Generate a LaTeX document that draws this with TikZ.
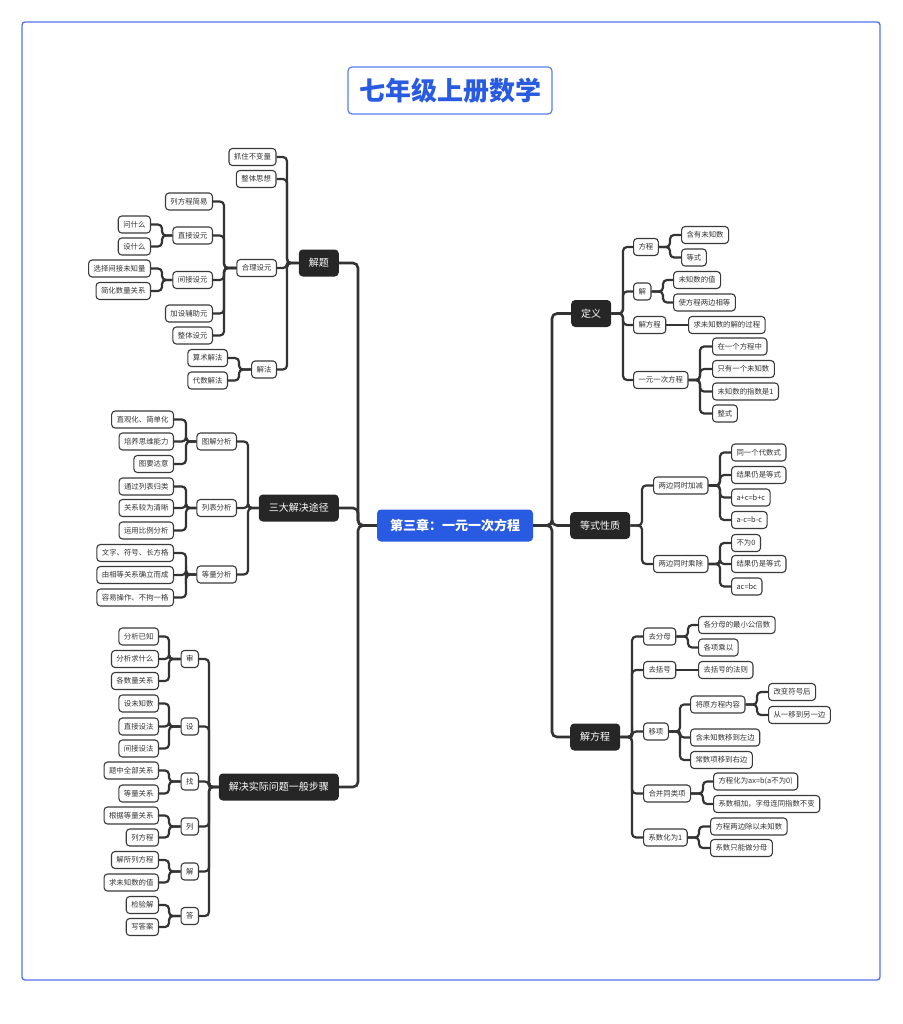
\documentclass[tikz,border=0pt]{standalone}
\usepackage{fontspec}
\setmainfont{Noto Sans CJK SC}
\definecolor{mainfill}{RGB}{38,38,38}
\definecolor{lnk}{RGB}{51,51,51}
\definecolor{leafline}{RGB}{58,58,58}
\definecolor{blue1}{RGB}{40,90,226}
\definecolor{blue2}{RGB}{90,125,240}
\definecolor{frame}{RGB}{84,112,240}
\tikzset{
  leaf/.style={draw=leafline, line width=1.1pt, rounded corners=3.5pt, fill=white, text=lnk,
    font=\fontsize{7.4}{8}\selectfont, inner xsep=5pt, inner ysep=0pt, minimum height=17pt},
  mainbox/.style={fill=mainfill, text=white, rounded corners=4pt, font=\fontsize{10}{11}\selectfont,
    inner xsep=10pt, inner ysep=0pt, minimum height=27pt},
  centerbox/.style={fill=blue1, text=white, rounded corners=4pt, font=\bfseries\fontsize{13}{14}\selectfont,
    inner xsep=13pt, inner ysep=0pt, minimum height=32pt},
  titlebox/.style={draw=blue2, line width=1.2pt, fill=white, text=blue1, rounded corners=4pt,
    font=\bfseries\fontsize{26}{28}\selectfont, inner xsep=11pt, inner ysep=0pt, minimum height=47pt},
  trunk/.style={draw=lnk, line width=2.6pt, rounded corners=5pt},
  sub/.style={draw=lnk, line width=2.2pt, rounded corners=4pt},
}
\newcommand\joinL[4][sub]{\foreach \c in {#4}{\draw[#1] (#2.west) -- (#2.west -| #3) |- (\c.east);}}
\newcommand\joinR[4][sub]{\foreach \c in {#4}{\draw[#1] (#2.east) -- (#2.east -| #3) |- (\c.west);}}
\newcommand\joinS[2]{\draw[sub] (#1.east) -- (#2.west);}
\begin{document}
\begin{tikzpicture}[x=1pt,y=-1pt]
\useasboundingbox (0,0) rectangle (902,1024);
\draw[frame, line width=1.3pt, rounded corners=3pt] (22,22) rectangle (880,980);

\node[titlebox] (title) at (450,90.5) {七年级上册数学};
\node[centerbox] (C) at (455,525.5) {第三章：一元一次方程};

% bus coordinates
\coordinate (tL) at (358,0);
\coordinate (tR) at (552,0);
\coordinate (bA) at (287,0);
\coordinate (bA3) at (224,0);
\coordinate (bA32) at (162,0);
\coordinate (bA4) at (239,0);
\coordinate (bB) at (248,0);
\coordinate (bB1) at (186,0);
\coordinate (bC) at (209,0);
\coordinate (bC1) at (169,0);
\coordinate (bD) at (623,0);
\coordinate (bD1) at (670,0);
\coordinate (bD2) at (663,0);
\coordinate (bD4) at (700,0);
\coordinate (bE) at (642,0);
\coordinate (bE1) at (720,0);
\coordinate (bF) at (632,0);
\coordinate (bF1) at (688,0);
\coordinate (bF3) at (680,0);
\coordinate (bF31) at (757,0);
\coordinate (bF4) at (703,0);
\coordinate (bF5) at (699,0);

% main nodes
\node[mainbox, anchor=east] (L1) at (339,263) {解题};
\node[mainbox, anchor=east] (L2) at (339,508) {三大解决途径};
\node[mainbox, anchor=east] (L3) at (339,787) {解决实际问题一般步骤};
\node[mainbox, anchor=west] (R1) at (571,313.5) {定义};
\node[mainbox, anchor=west] (R2) at (570,525.5) {等式性质};
\node[mainbox, anchor=west] (R3) at (570,737) {解方程};

% 解题
\node[leaf, anchor=east] (a1) at (276.5,157) {抓住不变量};
\node[leaf, anchor=east] (a2) at (276.5,179) {整体思想};
\node[leaf, anchor=east] (a3) at (277,268) {合理设元};
\node[leaf, anchor=east] (a4) at (277,369.5) {解法};
\node[leaf, anchor=east] (a31) at (213,201.5) {列方程简易};
\node[leaf, anchor=east] (a32) at (213,235.5) {直接设元};
\node[leaf, anchor=east] (a33) at (213,280) {间接设元};
\node[leaf, anchor=east] (a34) at (213,313.5) {加设辅助元};
\node[leaf, anchor=east] (a35) at (213,335.5) {整体设元};
\node[leaf, anchor=east] (a321) at (151,224.5) {问什么};
\node[leaf, anchor=east] (a322) at (151,246.5) {设什么};
\node[leaf, anchor=east] (a331) at (151,268.5) {选择间接未知量};
\node[leaf, anchor=east] (a332) at (151,291) {简化数量关系};
\node[leaf, anchor=east] (a41) at (228,358) {算术解法};
\node[leaf, anchor=east] (a42) at (228,380.5) {代数解法};

% 三大解决途径
\node[leaf, anchor=east] (b1) at (237,441.5) {图解分析};
\node[leaf, anchor=east] (b2) at (237,508) {列表分析};
\node[leaf, anchor=east] (b3) at (237,574.5) {等量分析};
\node[leaf, anchor=east] (b11) at (174,419.5) {直观化、简单化};
\node[leaf, anchor=east] (b12) at (174,441.5) {培养思维能力};
\node[leaf, anchor=east] (b13) at (174,464) {图要达意};
\node[leaf, anchor=east] (b21) at (174,486.5) {通过列表归类};
\node[leaf, anchor=east] (b22) at (174,508) {关系较为清晰};
\node[leaf, anchor=east] (b23) at (174,530.5) {运用比例分析};
\node[leaf, anchor=east] (b31) at (174,553) {文字、符号、长方格};
\node[leaf, anchor=east] (b32) at (174,575) {由相等关系确立而成};
\node[leaf, anchor=east] (b33) at (174,597.5) {容易操作、不拘一格};

% 解决实际问题一般步骤
\node[leaf, anchor=east] (c1) at (199,659) {审};
\node[leaf, anchor=east] (c2) at (199,726.5) {设};
\node[leaf, anchor=east] (c3) at (199,781.5) {找};
\node[leaf, anchor=east] (c4) at (199,826.5) {列};
\node[leaf, anchor=east] (c5) at (199,871.5) {解};
\node[leaf, anchor=east] (c6) at (199,916) {答};
\node[leaf, anchor=east] (c11) at (159,636.5) {分析已知};
\node[leaf, anchor=east] (c12) at (159,659) {分析求什么};
\node[leaf, anchor=east] (c13) at (159,681) {各数量关系};
\node[leaf, anchor=east] (c21) at (159,703.5) {设未知数};
\node[leaf, anchor=east] (c22) at (159,726.5) {直接设法};
\node[leaf, anchor=east] (c23) at (159,748.5) {间接设法};
\node[leaf, anchor=east] (c31) at (159,770.5) {题中全部关系};
\node[leaf, anchor=east] (c32) at (159,793.5) {等量关系};
\node[leaf, anchor=east] (c41) at (159,815.5) {根据等量关系};
\node[leaf, anchor=east] (c42) at (159,837.5) {列方程};
\node[leaf, anchor=east] (c51) at (159,860) {解所列方程};
\node[leaf, anchor=east] (c52) at (159,882.5) {求未知数的值};
\node[leaf, anchor=east] (c61) at (159,905) {检验解};
\node[leaf, anchor=east] (c62) at (159,927) {写答案};

% 定义
\node[leaf, anchor=west] (d1) at (633,247) {方程};
\node[leaf, anchor=west] (d2) at (633,291.5) {解};
\node[leaf, anchor=west] (d3) at (633,325) {解方程};
\node[leaf, anchor=west] (d4) at (633,380) {一元一次方程};
\node[leaf, anchor=west] (d11) at (681,235) {含有未知数};
\node[leaf, anchor=west] (d12) at (681,257.5) {等式};
\node[leaf, anchor=west] (d21) at (673,280) {未知数的值};
\node[leaf, anchor=west] (d22) at (673,302.5) {使方程两边相等};
\node[leaf, anchor=west] (d31) at (688,325) {求未知数的解的过程};
\node[leaf, anchor=west] (d41) at (712,346.5) {在一个方程中};
\node[leaf, anchor=west] (d42) at (712,369) {只有一个未知数};
\node[leaf, anchor=west] (d43) at (712,391.5) {未知数的指数是1};
\node[leaf, anchor=west] (d44) at (712,413.5) {整式};

% 等式性质
\node[leaf, anchor=west] (e1) at (653,485.5) {两边同时加减};
\node[leaf, anchor=west] (e2) at (653,564) {两边同时乘除};
\node[leaf, anchor=west] (e11) at (731,452.5) {同一个代数式};
\node[leaf, anchor=west] (e12) at (731,475) {结果仍是等式};
\node[leaf, anchor=west] (e13) at (731,497.5) {a+c=b+c};
\node[leaf, anchor=west] (e14) at (731,520) {a-c=b-c};
\node[leaf, anchor=west] (e21) at (731,543) {不为0};
\node[leaf, anchor=west] (e22) at (731,564) {结果仍是等式};
\node[leaf, anchor=west] (e23) at (731,586.5) {ac=bc};

% 解方程
\node[leaf, anchor=west] (f1) at (643,636.5) {去分母};
\node[leaf, anchor=west] (f2) at (643,670) {去括号};
\node[leaf, anchor=west] (f3) at (643,731.5) {移项};
\node[leaf, anchor=west] (f4) at (643,793.5) {合并同类项};
\node[leaf, anchor=west] (f5) at (643,837.5) {系数化为1};
\node[leaf, anchor=west] (f11) at (698,625) {各分母的最小公倍数};
\node[leaf, anchor=west] (f12) at (698,647.5) {各项乘以};
\node[leaf, anchor=west] (f21) at (698,670) {去括号的法则};
\node[leaf, anchor=west] (f31) at (690,704.5) {将原方程内容};
\node[leaf, anchor=west] (f32) at (690,737.5) {含未知数移到左边};
\node[leaf, anchor=west] (f33) at (690,760) {常数项移到右边};
\node[leaf, anchor=west] (f311) at (768,692) {改变符号后};
\node[leaf, anchor=west] (f312) at (768,715) {从一移到另一边};
\node[leaf, anchor=west] (f41) at (713,781.5) {方程化为ax=b(a不为0)};
\node[leaf, anchor=west] (f42) at (713,804) {系数相加，字母连同指数不变};
\node[leaf, anchor=west] (f51) at (710,826.5) {方程两边除以未知数};
\node[leaf, anchor=west] (f52) at (710,848) {系数只能做分母};

% connectors
\joinL[trunk]{C}{tL}{L1,L2,L3}
\joinR[trunk]{C}{tR}{R1,R2,R3}
\joinL{L1}{bA}{a1,a2,a3,a4}
\joinL{a3}{bA3}{a31,a32,a33,a34,a35}
\joinL{a32}{bA32}{a321,a322}
\joinL{a33}{bA32}{a331,a332}
\joinL{a4}{bA4}{a41,a42}
\joinL{L2}{bB}{b1,b2,b3}
\joinL{b1}{bB1}{b11,b12,b13}
\joinL{b2}{bB1}{b21,b22,b23}
\joinL{b3}{bB1}{b31,b32,b33}
\joinL{L3}{bC}{c1,c2,c3,c4,c5,c6}
\joinL{c1}{bC1}{c11,c12,c13}
\joinL{c2}{bC1}{c21,c22,c23}
\joinL{c3}{bC1}{c31,c32}
\joinL{c4}{bC1}{c41,c42}
\joinL{c5}{bC1}{c51,c52}
\joinL{c6}{bC1}{c61,c62}
\joinR{R1}{bD}{d1,d2,d3,d4}
\joinR{d1}{bD1}{d11,d12}
\joinR{d2}{bD2}{d21,d22}
\joinS{d3}{d31}
\joinR{d4}{bD4}{d41,d42,d43,d44}
\joinR{R2}{bE}{e1,e2}
\joinR{e1}{bE1}{e11,e12,e13,e14}
\joinR{e2}{bE1}{e21,e22,e23}
\joinR{R3}{bF}{f1,f2,f3,f4,f5}
\joinR{f1}{bF1}{f11,f12}
\joinS{f2}{f21}
\joinR{f3}{bF3}{f31,f32,f33}
\joinR{f31}{bF31}{f311,f312}
\joinR{f4}{bF4}{f41,f42}
\joinR{f5}{bF5}{f51,f52}
\end{tikzpicture}
\end{document}
